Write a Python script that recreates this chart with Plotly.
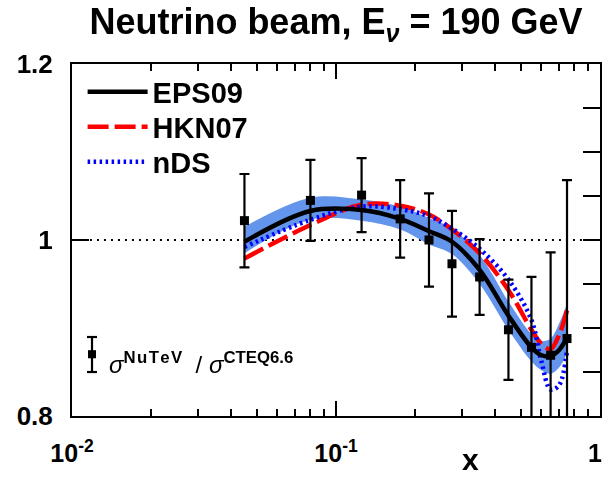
import plotly.graph_objects as go

FONT = "Liberation Sans, Arial, Helvetica, sans-serif"

# NuTeV data / CTEQ6.6
data_x = [0.045, 0.08, 0.125, 0.175, 0.225, 0.275, 0.35, 0.45, 0.55, 0.65, 0.75]
data_y = [1.022, 1.045, 1.051, 1.024, 1.000, 0.973, 0.958, 0.898, 0.878, 0.869, 0.888]
data_err = [0.053, 0.046, 0.042, 0.044, 0.053, 0.060, 0.043, 0.057, 0.080, 0.117, 0.180]

# theory curves
curve_x = [0.045, 0.08, 0.125, 0.175, 0.225, 0.275, 0.35, 0.45, 0.55, 0.6, 0.65, 0.7, 0.75]
eps09 = [0.998, 1.033, 1.034, 1.024, 1.010, 0.998, 0.966, 0.914, 0.878, 0.869, 0.868, 0.875, 0.889]
eps09_lo = [0.985, 1.023, 1.022, 1.012, 0.995, 0.984, 0.950, 0.898, 0.862, 0.852, 0.848, 0.855, 0.872]
eps09_hi = [1.015, 1.048, 1.046, 1.038, 1.025, 1.013, 0.983, 0.930, 0.893, 0.885, 0.888, 0.905, 0.928]
hkn07 = [0.979, 1.017, 1.040, 1.039, 1.029, 1.012, 0.985, 0.943, 0.898, 0.882, 0.876, 0.892, 0.920]
nds = [0.992, 1.023, 1.038, 1.035, 1.027, 1.013, 0.990, 0.955, 0.909, 0.862, 0.830, 0.835, 0.875]

x_tickvals = [0.01, 0.1, 1]
x_ticktext = ["10<sup>-2</sup>", "10<sup>-1</sup>", ""]
x_last_label = "1"
x_minor = [0.02, 0.03, 0.04, 0.05, 0.06, 0.07, 0.08, 0.09,
           0.2, 0.3, 0.4, 0.5, 0.6, 0.7, 0.8, 0.9]
y_tickvals = [0.8, 1.0, 1.2]
y_ticktext = ["0.8", "1", "1.2"]
y_right_ticks = [0.8, 0.85, 0.9, 0.95, 1.0, 1.05, 1.1, 1.15, 1.2]

BAND = "#6495ed"
LEG_FONT = dict(family=FONT, size=29, color="black", weight="bold")
TICK_FONT_X = dict(family=FONT, size=25, color="black", weight="bold")

fig = go.Figure()
fig.add_trace(go.Scatter(x=curve_x, y=eps09_lo, mode="lines", line=dict(width=0, shape="spline"),
                         showlegend=False, hoverinfo="skip"))
fig.add_trace(go.Scatter(x=curve_x, y=eps09_hi, mode="lines", line=dict(width=0, shape="spline"),
                         fill="tonexty", fillcolor=BAND, showlegend=False, hoverinfo="skip"))
fig.add_trace(go.Scatter(x=curve_x, y=hkn07, mode="lines", name="HKN07", legend="legend2",
                         line=dict(color="#ff0000", width=4.5, dash="21px,6px", shape="spline")))
fig.add_trace(go.Scatter(x=curve_x, y=nds, mode="lines", name="nDS", legend="legend3",
                         line=dict(color="#0000ff", width=4.5, dash="2.5px,3.5px", shape="spline")))
fig.add_trace(go.Scatter(x=curve_x, y=eps09, mode="lines", name="EPS09", legend="legend",
                         line=dict(color="#000000", width=4.5, shape="spline")))
fig.add_trace(go.Scatter(x=data_x, y=data_y, mode="markers", showlegend=False,
                         marker=dict(symbol="square", size=9, color="black"),
                         error_y=dict(type="data", array=data_err, color="black", thickness=2.2, width=5)))
# carrier for the right-hand tick axis
fig.add_trace(go.Scatter(x=data_x, y=data_y, mode="markers", yaxis="y2", opacity=0,
                         showlegend=False, hoverinfo="skip"))

leg_common = dict(x=0.0201, xanchor="left", yanchor="middle", bgcolor="rgba(0,0,0,0)",
                  itemwidth=60, font=LEG_FONT)

fig.update_layout(
    width=605, height=478,
    margin=dict(l=72, r=5, t=64, b=62, autoexpand=False),
    paper_bgcolor="white", plot_bgcolor="white",
    title=dict(text="Neutrino beam, E<sub><i>ν</i></sub> = 190 GeV", x=0.5, xref="paper",
               y=0.955, yanchor="middle",
               font=dict(family=FONT, size=36, color="black", weight="bold")),
    xaxis=dict(type="log", range=[-2, 0], tickmode="array", tickvals=x_tickvals, ticktext=x_ticktext,
               ticks="inside", ticklen=15, tickwidth=2, tickcolor="black",
               showline=True, linewidth=2, linecolor="black", mirror="ticks",
               showgrid=False, zeroline=False, ticklabelstandoff=14,
               automargin=False, tickfont=TICK_FONT_X,
               minor=dict(tickmode="array", tickvals=x_minor, ticks="inside", ticklen=7,
                          tickwidth=2, tickcolor="black", showgrid=False)),
    yaxis=dict(range=[0.8, 1.2], tickmode="array", tickvals=y_tickvals, ticktext=y_ticktext,
               ticks="inside", ticklen=17, tickwidth=2, tickcolor="black",
               showline=True, linewidth=2, linecolor="black", mirror=True,
               showgrid=False, zeroline=False, ticklabelstandoff=12, automargin=False,
               tickfont=dict(family=FONT, size=26, color="black", weight="bold")),
    yaxis2=dict(range=[0.8, 1.2], overlaying="y", side="right", tickmode="array",
                tickvals=y_right_ticks, ticks="inside", ticklen=17, tickwidth=2, tickcolor="black",
                showticklabels=False, showgrid=False, zeroline=False, showline=False),
    legend=dict(y=0.9205, **leg_common),
    legend2=dict(y=0.821, **leg_common),
    legend3=dict(y=0.7216, **leg_common),
    shapes=[
        dict(type="line", xref="paper", yref="y", x0=0.034, x1=0.967, y0=1, y1=1,
             line=dict(color="black", width=2, dash="2px,5px"), layer="below"),
        # legend glyph for the data points
        dict(type="line", xref="paper", yref="paper", x0=0.0379, x1=0.0379, y0=0.125, y1=0.2244,
             line=dict(color="black", width=2.2)),
        dict(type="line", xref="paper", yref="paper", x0=0.0284, x1=0.0474, y0=0.2244, y1=0.2244,
             line=dict(color="black", width=2.2)),
        dict(type="line", xref="paper", yref="paper", x0=0.0284, x1=0.0474, y0=0.125, y1=0.125,
             line=dict(color="black", width=2.2)),
        dict(type="rect", xref="paper", yref="paper", x0=0.0303, x1=0.0455, y0=0.164, y1=0.187,
             fillcolor="black", line=dict(width=0)),
    ],
    annotations=[
        dict(text=x_last_label, xref="paper", yref="paper", x=1.0085, y=-0.105, showarrow=False,
             xanchor="right", yanchor="middle", font=TICK_FONT_X),
        dict(text="x", xref="paper", yref="paper", x=0.754, y=-0.1755, showarrow=False,
             xanchor="center", yanchor="bottom",
             font=dict(family=FONT, size=30, color="black", weight="bold")),
        dict(text="<i>σ</i><sup><b>N\u200au\u200aT\u200ae\u200aV</b></sup>  / <i>σ</i><sup><b>CTEQ6.6</b></sup>",
             xref="paper", yref="paper", x=0.066, y=0.15, showarrow=False,
             xanchor="left", yanchor="middle",
             font=dict(family=FONT, size=24, color="black")),
    ],
)

fig.write_html("out.html", config={"displayModeBar": False},
               post_script="document.body.style.margin='0px';")
